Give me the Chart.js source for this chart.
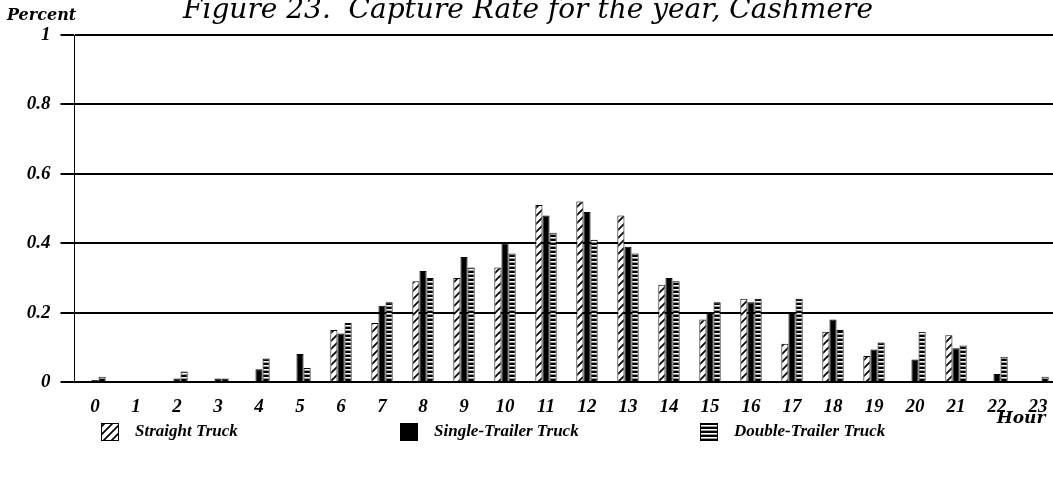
<!DOCTYPE html>
<html>
<head>
<meta charset="utf-8">
<script src="https://cdn.jsdelivr.net/npm/chart.js@4/dist/chart.umd.min.js"></script>
<style>
  html, body { margin: 0; padding: 0; background: #fff; overflow: hidden; }
  #wrap { position: relative; width: 1062px; height: 477px; }
</style>
</head>
<body>
<div id="wrap"><canvas id="rateChart"></canvas></div>
<script>
// Hours of the day
const hours = ["0","1","2","3","4","5","6","7","8","9","10","11","12","13","14","15","16","17","18","19","20","21","22","23"];

// Capture rate per hour
const straightTruck = [0, 0, 0, 0, 0, 0, 0.15, 0.17, 0.29, 0.30, 0.33, 0.51, 0.52, 0.48, 0.28, 0.18, 0.24, 0.11, 0.145, 0.075, 0, 0.135, 0, 0];
const singleTrailer = [0.006, 0, 0.01, 0.01, 0.037, 0.081, 0.14, 0.22, 0.32, 0.36, 0.40, 0.48, 0.49, 0.39, 0.30, 0.20, 0.23, 0.20, 0.18, 0.094, 0.065, 0.097, 0.023, 0];
const doubleTrailer = [0.015, 0, 0.03, 0.01, 0.068, 0.04, 0.17, 0.23, 0.30, 0.33, 0.37, 0.43, 0.41, 0.37, 0.29, 0.23, 0.24, 0.24, 0.15, 0.114, 0.145, 0.105, 0.073, 0.015];

const seriesNames = ["Straight Truck", "Single-Trailer Truck", "Double-Trailer Truck"];
const yTicks = [0, 0.2, 0.4, 0.6, 0.8, 1];

const SERIF = "'Liberation Serif', serif";
const WIDE = "'DejaVu Serif', serif";

// fill patterns
function hatchPattern() {
  const c = document.createElement("canvas");
  c.width = 8; c.height = 8;
  const g = c.getContext("2d");
  g.fillStyle = "#fff";
  g.fillRect(0, 0, 8, 8);
  g.strokeStyle = "#000";
  g.lineWidth = 1.7;
  g.beginPath();
  g.moveTo(-2, 10); g.lineTo(10, -2);
  g.moveTo(-2, 2); g.lineTo(2, -2);
  g.moveTo(6, 10); g.lineTo(10, 6);
  g.stroke();
  return g.createPattern(c, "repeat");
}

function stripePattern() {
  const c = document.createElement("canvas");
  c.width = 4; c.height = 4;
  const g = c.getContext("2d");
  g.fillStyle = "#000";
  g.fillRect(0, 0, 4, 4);
  g.fillStyle = "#fff";
  g.fillRect(0, 1, 4, 1.6);
  return g.createPattern(c, "repeat");
}

const fills = [hatchPattern(), "#000", stripePattern()];

// extra text + legend drawn on the canvas
const decor = {
  id: "decor",
  afterDraw(chart) {
    const ctx = chart.ctx;
    ctx.save();
    ctx.fillStyle = "#000";

    ctx.font = "italic 28px " + WIDE;
    ctx.textAlign = "center";
    ctx.textBaseline = "alphabetic";
    ctx.fillText("Figure 23.  Capture Rate for the year, Cashmere", 528, 18);

    ctx.font = "bold italic 16px " + WIDE;
    ctx.textAlign = "left";
    ctx.textBaseline = "middle";
    ctx.fillText("Percent", 7, 16);

    ctx.font = "bold italic 17px " + WIDE;
    ctx.textAlign = "center";
    ctx.fillText("Hour", 1021, 419);

    // legend
    const boxX = [101, 400, 700];
    const y = 432;
    ctx.font = "bold italic 17px " + SERIF;
    ctx.textAlign = "left";
    chart.data.datasets.forEach((ds, i) => {
      ctx.fillStyle = ds.backgroundColor;
      ctx.fillRect(boxX[i], y - 9, 18, 18);
      ctx.strokeStyle = "#000";
      ctx.lineWidth = 1;
      ctx.strokeRect(boxX[i] + 0.5, y - 8.5, 17, 17);
      ctx.fillStyle = "#000";
      ctx.fillText(seriesNames[i], boxX[i] + 34, y);
    });
    ctx.restore();
  }
};

new Chart(document.getElementById("rateChart"), {
  type: "bar",
  data: {
    labels: hours,
    datasets: [straightTruck, singleTrailer, doubleTrailer].map((vals, i) => ({
      label: seriesNames[i],
      data: vals,
      backgroundColor: fills[i],
      borderColor: "#000",
      borderWidth: 1,
      categoryPercentage: 0.52,
      barPercentage: 1.0
    }))
  },
  options: {
    responsive: true,
    maintainAspectRatio: false,
    animation: false,
    layout: { padding: { top: 35, right: 3.5, left: 0, bottom: 0 } },
    plugins: {
      legend: { display: false },
      tooltip: { enabled: false },
      title: { display: false }
    },
    scales: {
      x: {
        grid: { display: false, drawTicks: false },
        border: { display: false },
        ticks: {
          color: "#000",
          padding: 14,
          maxRotation: 0,
          autoSkip: false,
          font: { family: SERIF, size: 19, style: "italic", weight: "bold" }
        },
        afterFit(scale) { scale.height = 95; }
      },
      y: {
        min: 0,
        max: 1,
        afterBuildTicks(scale) { scale.ticks = yTicks.map(v => ({ value: v })); },
        grid: { color: "#000", lineWidth: 2, tickLength: 14 },
        border: { display: true, color: "#000", width: 1 },
        ticks: {
          color: "#000",
          padding: 10,
          callback: v => String(v),
          font: { family: SERIF, size: 19, style: "italic", weight: "bold" }
        },
        afterFit(scale) { scale.width = 74.5; }
      }
    }
  },
  plugins: [decor]
});
</script>
</body>
</html>
